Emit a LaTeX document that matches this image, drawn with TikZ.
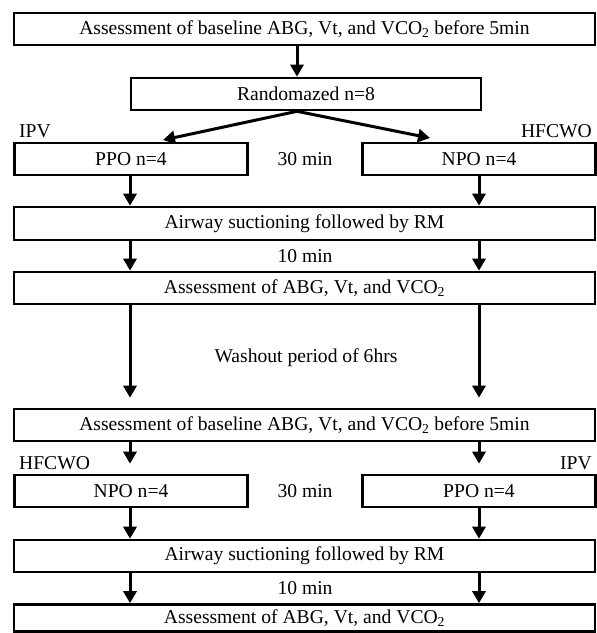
\documentclass[tikz,border=0pt]{standalone}
\usepackage{fontspec}
\setmainfont{Liberation Serif}
\usetikzlibrary{arrows.meta}
\begin{document}
\begin{tikzpicture}[x=1pt,y=-1pt,
  font=\fontsize{19.6}{22}\selectfont,
  box/.style={draw, line width=2.6pt, inner sep=0pt, minimum height=32pt},
  wide/.style={box, minimum width=581pt},
  half/.style={box, minimum width=233pt},
  arr/.style={line width=3pt, -{Triangle[length=12pt,width=13pt]}},
  lbl/.style={inner sep=0pt}]
\useasboundingbox (0,0) rectangle (597,633);

% arrow columns
\coordinate (cm) at (297,0);
\coordinate (cl) at (130,0);
\coordinate (cr) at (479,0);

% first round
\node[wide] (b1) at (304.5,29) {Assessment of baseline ABG, Vt, and VCO\textsubscript{2} before 5min};
\node[box, minimum width=350pt] (rnd) at (306,94) {Randomazed n=8};
\node[half] (ppoA) at (131,159) {PPO n=4};
\node[half] (npoA) at (479,159) {NPO n=4};
\node[wide, minimum height=33pt] (airA) at (304.5,223.5) {Airway suctioning followed by RM};
\node[wide] (assA) at (304.5,288) {Assessment of ABG, Vt, and VCO\textsubscript{2}};

\node[lbl, anchor=base west] (ipvA) at (19,137) {IPV};
\node[lbl, anchor=base east] (hfA) at (592,137) {HFCWO};
\node[lbl] (tA) at (305,159) {30 min};
\node[lbl] (mA) at (305,256) {10 min};
\node[lbl] (wash) at (306,358) {Washout period of 6hrs};

% second round
\node[wide] (b2) at (304.5,425) {Assessment of baseline ABG, Vt, and VCO\textsubscript{2} before 5min};
\node[half] (npoB) at (131,491) {NPO n=4};
\node[half] (ppoB) at (479,491) {PPO n=4};
\node[wide] (airB) at (304.5,556) {Airway suctioning followed by RM};
\node[wide, minimum height=27pt] (assB) at (304.5,618) {Assessment of ABG, Vt, and VCO\textsubscript{2}};

\node[lbl, anchor=base west] (hfB) at (19,469) {HFCWO};
\node[lbl, anchor=base east] (ipvB) at (592,469) {IPV};
\node[lbl] (tB) at (305,491) {30 min};
\node[lbl] (mB) at (305,588) {10 min};

% split targets
\coordinate (tipL) at (163,140);
\coordinate (tipR) at (430,138);

% connectors
\draw[arr] (b1.south -| cm) -- (rnd.north -| cm);
\draw[arr] (rnd.south -| cm) -- (tipL);
\draw[arr] (rnd.south -| cm) -- (tipR);
\draw[arr] (ppoA.south -| cl) -- (airA.north -| cl);
\draw[arr] (npoA.south -| cr) -- (airA.north -| cr);
\draw[arr] (airA.south -| cl) -- (assA.north -| cl);
\draw[arr] (airA.south -| cr) -- (assA.north -| cr);
\draw[arr, shorten >=10pt] (assA.south -| cl) -- (b2.north -| cl);
\draw[arr, shorten >=10pt] (assA.south -| cr) -- (b2.north -| cr);
\draw[arr, shorten >=10pt] (b2.south -| cl) -- (npoB.north -| cl);
\draw[arr, shorten >=10pt] (b2.south -| cr) -- (ppoB.north -| cr);
\draw[arr] (npoB.south -| cl) -- (airB.north -| cl);
\draw[arr] (ppoB.south -| cr) -- (airB.north -| cr);
\draw[arr] (airB.south -| cl) -- (assB.north -| cl);
\draw[arr] (airB.south -| cr) -- (assB.north -| cr);
\end{tikzpicture}
\end{document}
